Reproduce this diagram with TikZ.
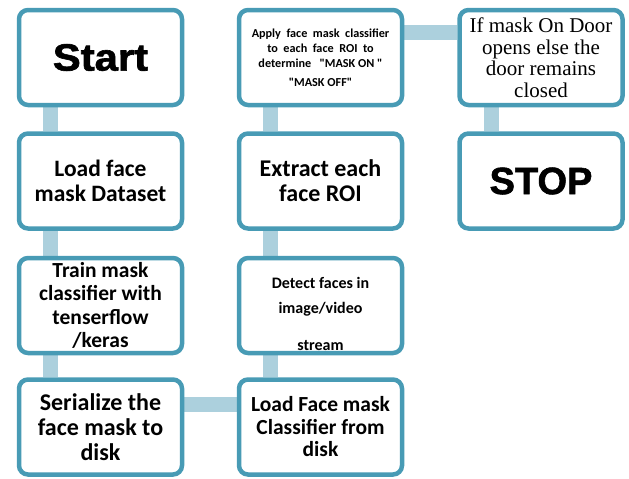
\documentclass[tikz,border=0pt]{standalone}
\usepackage{fontspec}
\setmainfont{Carlito}[Ligatures=TeXOff]
\newfontfamily\headfont{Liberation Sans Bold}[FakeBold=1.6]
\newfontfamily\doorfont{Liberation Serif}
\usetikzlibrary{backgrounds}

\definecolor{boxline}{RGB}{72,155,181}
\definecolor{barblue}{RGB}{172,208,221}

\tikzset{
  flowbox/.style={draw=boxline, line width=4.5pt, rounded corners=9pt, fill=white,
    minimum width=163pt, minimum height=95pt, align=center, inner sep=2pt},
  bar/.style={draw=barblue, line width=15pt}
}

\begin{document}
\begin{tikzpicture}[x=1pt, y=-1pt]
  \useasboundingbox (0,0) rectangle (629,479);

  %%c1
  \node[flowbox, font=\headfont\fontsize{38}{40}\selectfont] (start) at (100.5, 57.5) {\scalebox{1.1}[1]{Start}};
  \node[flowbox, font=\bfseries\fontsize{23.5}{25}\selectfont] (load) at (100.5, 181) {Load face\\ mask Dataset};
  \node[flowbox, font=\bfseries\fontsize{21.5}{23.5}\selectfont] (train) at (100.5, 305.5) {Train mask\\ classifier with\\ tenserflow\\ /keras};
  \node[flowbox, font=\bfseries\fontsize{24}{25}\selectfont] (serial) at (100.5, 427) {Serialize the\\ face mask to\\ disk};

  %%c2
  \node[flowbox, font=\bfseries\fontsize{21.5}{22.5}\selectfont] (loadclf) at (320.5, 427) {Load Face mask\\ Classifier from\\ disk};
  \node[flowbox] (detect) at (320.5, 305.5) {};
    \node[font=\bfseries\fontsize{16}{25}\selectfont, align=center] (detecttxt) at ([yshift=-8pt]detect.center) {Detect faces in\\ image/video\\[12pt] stream};
  \node[flowbox, font=\bfseries\fontsize{24}{25}\selectfont] (roi) at (320.5, 181) {Extract each\\ face ROI};
  \node[flowbox, font=\bfseries\fontsize{12.2}{15}\selectfont] (apply) at (320.5, 57.5) {Apply\ \ face\ \ mask\ \ classifier\\ to\ \ each\ \ face\ \ ROI\ \ to\\ determine\ \ \ "MASK ON "\\[4pt] "MASK OFF"};

  %%c3
  \node[flowbox, font=\doorfont\fontsize{21}{21.5}\selectfont] (door) at (541, 57.5) {If mask On Door\\ opens else the\\ door remains\\ closed};
  \node[flowbox, font=\headfont\fontsize{38}{40}\selectfont] (stop) at (541, 181) {STOP};

  \begin{scope}[on background layer]
    \draw[bar] ([xshift=-50pt]start.south) to ([xshift=-50pt]load.north);
    \draw[bar] ([xshift=-50pt]load.south) to ([xshift=-50pt]train.north);
    \draw[bar] ([xshift=-50pt]train.south) to ([xshift=-50pt]serial.north);
    \draw[bar] ([yshift=22.5pt]serial.east) to ([yshift=22.5pt]loadclf.west);
    \draw[bar] ([xshift=-50pt]loadclf.north) to ([xshift=-50pt]detect.south);
    \draw[bar] ([xshift=-50pt]detect.north) to ([xshift=-50pt]roi.south);
    \draw[bar] ([xshift=-50pt]roi.north) to ([xshift=-50pt]apply.south);
    \draw[bar] ([yshift=25pt]apply.east) to ([yshift=25pt]door.west);
    \draw[bar] ([xshift=-50pt]door.south) to ([xshift=-50pt]stop.north);
  \end{scope}

\end{tikzpicture}
\end{document}
